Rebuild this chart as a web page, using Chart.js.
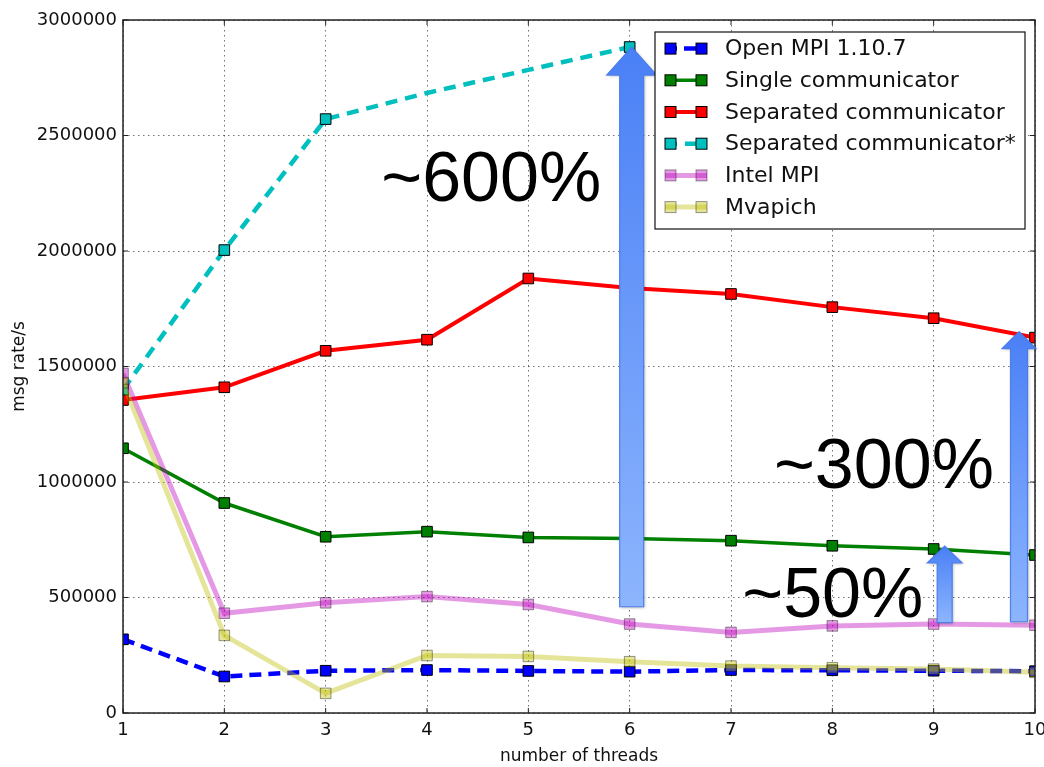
<!DOCTYPE html>
<html>
<head>
<meta charset="utf-8">
<script src="https://cdn.jsdelivr.net/npm/chart.js@4.4.1/dist/chart.umd.min.js"></script>
<style>
    html, body { margin: 0; padding: 0; background: #fff; }
    canvas { display: block; }
</style>
</head>
<body>
<canvas id="chart" width="1044" height="767"></canvas>
<script>
// values
const threads = ["1", "2", "3", "4", "5", "6", "7", "8", "9", "10"];
const yTicks = [0, 500000, 1000000, 1500000, 2000000, 2500000, 3000000];

const openMpi = [319000, 158000, 183000, 186000, 182000, 179000, 186000, 185000, 183000, 181000];
const singleComm = [1146000, 909000, 763000, 785000, 760000, 755000, 746000, 724000, 710000, 684000];
const separatedComm = [1355000, 1410000, 1568000, 1616000, 1881000, 1840000, 1814000, 1757000, 1709000, 1625000];
const separatedStar = [1400000, 2004000, 2571000, 2684000, 2784000, 2883000, null, null, null, null];
const intelMpi = [1470000, 432000, 477000, 504000, 470000, 385000, 349000, 377000, 385000, 380000];
const mvapich = [1430000, 336000, 85000, 249000, 245000, 222000, 203000, 196000, 190000, 176000];

// annotations (arrow ends and label anchors in data units)
const arrows = [
    { at: 5, from: 460000, to: 2883000, dx: 2, shaft: 24, head: 50, headLen: 28 },
    { at: 9, from: 395000, to: 1651000, dx: -16, shaft: 17, head: 34, headLen: 17 },
    { at: 8, from: 391000, to: 723000, dx: 11, shaft: 15, head: 35, headLen: 17 }
];
const notes = [
    { text: "~600%", at: 2.549, value: 2218000 },
    { text: "~300%", at: 6.424, value: 973000 },
    { text: "~50%", at: 6.111, value: 417000 }
];

const axisFont = "'DejaVu Sans', sans-serif";

function series(label, data, color, edge, width, dash, order) {
    return {
        label: label,
        data: data,
        borderColor: color,
        backgroundColor: color,
        borderWidth: width,
        borderDash: dash,
        borderCapStyle: "butt",
        pointStyle: "rect",
        pointRadius: 7.5,
        pointHoverRadius: 7.5,
        pointBackgroundColor: color,
        pointBorderColor: edge,
        pointBorderWidth: 1,
        tension: 0,
        spanGaps: false,
        clip: 0,
        order: order
    };
}

const datasets = [
    series("Open MPI 1.10.7", openMpi, "#0000ff", "#000", 4.5, [12, 7], 6),
    series("Single communicator", singleComm, "#008000", "#000", 3.5, [], 5),
    series("Separated communicator", separatedComm, "#ff0000", "#000", 4, [], 4),
    series("Separated communicator*", separatedStar, "#00bfbf", "#000", 4.5, [12, 8], 3),
    series("Intel MPI", intelMpi, "rgba(191,0,191,0.4)", "rgba(0,0,0,0.4)", 5, [], 2),
    series("Mvapich", mvapich, "rgba(191,191,0,0.4)", "rgba(0,0,0,0.4)", 5, [], 1)
];
datasets[3].pointRadius = [7.5, 7.5, 7.5, 0, 0, 7.5, 0, 0, 0, 0];

function arrowPath(ctx, cx, yTail, yTip, shaftW, headW, headH) {
    ctx.beginPath();
    ctx.moveTo(cx - shaftW / 2, yTail);
    ctx.lineTo(cx - shaftW / 2, yTip + headH);
    ctx.lineTo(cx - headW / 2, yTip + headH);
    ctx.lineTo(cx, yTip);
    ctx.lineTo(cx + headW / 2, yTip + headH);
    ctx.lineTo(cx + shaftW / 2, yTip + headH);
    ctx.lineTo(cx + shaftW / 2, yTail);
    ctx.closePath();
}

const decorations = {
    id: "decorations",

    afterDatasetsDraw(chart) {
        const { ctx, chartArea: area, scales } = chart;
        const xs = scales.x;
        const ys = scales.y;

        // frame with inward ticks, matplotlib style
        ctx.save();
        ctx.strokeStyle = "#222";
        ctx.lineWidth = 1.5;
        ctx.strokeRect(area.left, area.top, area.right - area.left, area.bottom - area.top);
        ctx.lineWidth = 1;
        ctx.beginPath();
        threads.forEach((t, i) => {
            const px = xs.getPixelForValue(i);
            ctx.moveTo(px, area.bottom);
            ctx.lineTo(px, area.bottom - 5);
            ctx.moveTo(px, area.top);
            ctx.lineTo(px, area.top + 5);
        });
        yTicks.forEach((v) => {
            const py = ys.getPixelForValue(v);
            ctx.moveTo(area.left, py);
            ctx.lineTo(area.left + 5, py);
            ctx.moveTo(area.right, py);
            ctx.lineTo(area.right - 5, py);
        });
        ctx.stroke();
        ctx.restore();

        // arrows
        arrows.forEach((a) => {
            const cx = xs.getPixelForValue(a.at) + a.dx;
            const yTail = ys.getPixelForValue(a.from);
            const yTip = ys.getPixelForValue(a.to);
            ctx.save();
            const grad = ctx.createLinearGradient(0, yTip, 0, yTail);
            grad.addColorStop(0, "#4a80f6");
            grad.addColorStop(1, "#8db5fd");
            ctx.shadowColor = "rgba(0,0,0,0.3)";
            ctx.shadowBlur = 3;
            ctx.shadowOffsetX = 1;
            ctx.shadowOffsetY = 1;
            arrowPath(ctx, cx, yTail, yTip, a.shaft, a.head, a.headLen);
            ctx.fillStyle = grad;
            ctx.fill();
            ctx.shadowColor = "transparent";
            ctx.strokeStyle = "rgba(70,120,235,0.9)";
            ctx.lineWidth = 1.2;
            ctx.stroke();
            ctx.restore();
        });

        // big labels
        ctx.save();
        ctx.fillStyle = "#000";
        ctx.font = "70px 'Liberation Sans', Arial, sans-serif";
        ctx.textAlign = "left";
        ctx.textBaseline = "alphabetic";
        notes.forEach((n) => {
            ctx.fillText(n.text, xs.getPixelForValue(n.at), ys.getPixelForValue(n.value));
        });
        ctx.restore();
    },

    afterDraw(chart) {
        const { ctx, chartArea: area } = chart;
        const x0 = area.right - 380;
        const y0 = area.top + 12;
        const w = 370;
        const h = 197;

        ctx.save();
        ctx.fillStyle = "#fff";
        ctx.fillRect(x0, y0, w, h);
        ctx.strokeStyle = "#111";
        ctx.lineWidth = 1.2;
        ctx.strokeRect(x0, y0, w, h);

        chart.data.datasets.forEach((ds, i) => {
            const y = y0 + 16.6 + i * 31.7;
            const xa = x0 + 10;
            const xb = x0 + 52;

            ctx.save();
            ctx.strokeStyle = ds.borderColor;
            ctx.lineWidth = ds.borderWidth;
            ctx.lineCap = "butt";
            ctx.setLineDash(ds.borderDash || []);
            ctx.beginPath();
            ctx.moveTo(xa, y);
            ctx.lineTo(xb, y);
            ctx.stroke();
            ctx.setLineDash([]);
            [xa + 5.5, xb - 5.5].forEach((mx) => {
                ctx.fillStyle = ds.pointBackgroundColor;
                ctx.fillRect(mx - 5.5, y - 5.5, 11, 11);
                ctx.strokeStyle = ds.pointBorderColor;
                ctx.lineWidth = 1;
                ctx.strokeRect(mx - 5.5, y - 5.5, 11, 11);
            });
            ctx.restore();

            ctx.fillStyle = "#111";
            ctx.font = "22px " + axisFont;
            ctx.textAlign = "left";
            ctx.textBaseline = "middle";
            ctx.fillText(ds.label, x0 + 70, y + 1);
        });
        ctx.restore();
    }
};

new Chart(document.getElementById("chart"), {
    type: "line",

    data: {
        labels: threads,
        datasets: datasets
    },

    options: {
        responsive: false,
        animation: false,
        devicePixelRatio: 1,

        layout: {
            padding: { top: 20, right: 9, left: 0, bottom: 0 }
        },

        plugins: {
            legend: { display: false },
            tooltip: { enabled: false }
        },

        scales: {
            x: {
                type: "category",
                offset: false,
                grid: {
                    color: "rgba(0,0,0,0.55)",
                    lineWidth: 1,
                    drawTicks: false
                },
                border: { display: false, dash: [1.5, 3.5] },
                ticks: {
                    color: "#111",
                    font: { family: axisFont, size: 18 },
                    padding: 7,
                    maxRotation: 0,
                    autoSkip: false
                },
                title: {
                    display: true,
                    text: "number of threads",
                    color: "#111",
                    font: { family: axisFont, size: 17 },
                    padding: { top: 4, bottom: 0 }
                },
                afterFit(scale) {
                    scale.height = 54;
                    scale.paddingLeft = 0;
                    scale.paddingRight = 0;
                }
            },

            y: {
                min: 0,
                max: 3000000,
                grid: {
                    color: "rgba(0,0,0,0.55)",
                    lineWidth: 1,
                    drawTicks: false
                },
                border: { display: false, dash: [1.5, 3.5] },
                ticks: {
                    color: "#111",
                    font: { family: axisFont, size: 18 },
                    padding: 6,
                    callback: (v) => String(v)
                },
                afterBuildTicks(scale) {
                    scale.ticks = yTicks.map((v) => ({ value: v }));
                },
                title: {
                    display: true,
                    text: "msg rate/s",
                    color: "#111",
                    font: { family: axisFont, size: 17 },
                    padding: { top: 9, bottom: 0 }
                },
                afterFit(scale) {
                    scale.width = 123;
                    scale.paddingTop = 0;
                    scale.paddingBottom = 0;
                }
            }
        }
    },

    plugins: [decorations]
});
</script>
</body>
</html>
